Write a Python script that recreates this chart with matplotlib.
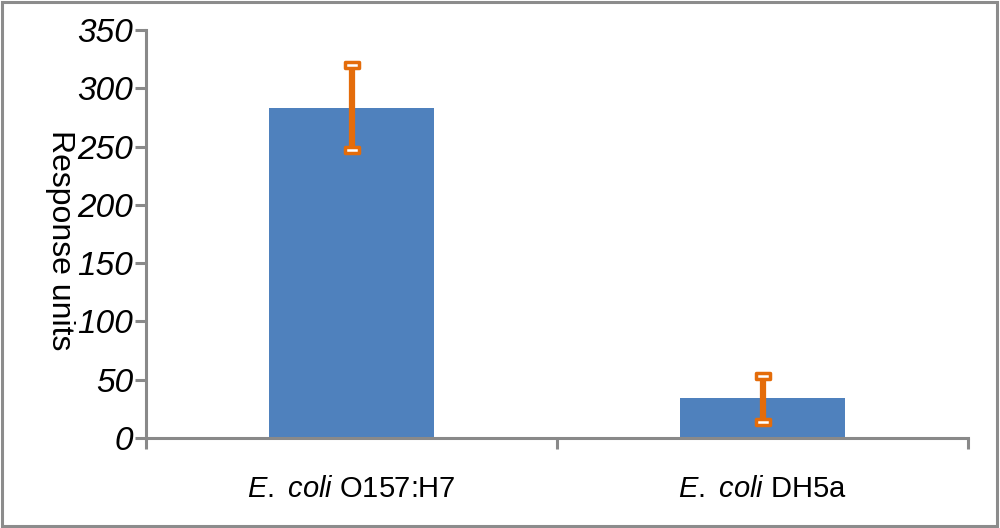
import matplotlib.pyplot as plt
from matplotlib.patches import Rectangle
from matplotlib.path import Path

plt.rcParams['font.family'] = ['Liberation Sans', 'DejaVu Sans']
plt.rcParams['mathtext.fontset'] = 'custom'
plt.rcParams['mathtext.rm'] = 'Liberation Sans'
plt.rcParams['mathtext.it'] = 'Liberation Sans:italic'

strains = [r'$\it{E.}$ $\it{coli}$ O157:H7', r'$\it{E.}$ $\it{coli}$ DH5a']
response = [283, 34]
err_hi = [37, 19]
err_lo = [36, 20]
yticks = [0, 50, 100, 150, 200, 250, 300, 350]

fig = plt.figure(figsize=(10, 5.28), dpi=100)
ax = fig.add_axes([0.146, 0.1705, 0.822, 0.7725])

x = list(range(len(strains)))
ax.bar(x, response, width=0.4, color='#4F81BD', zorder=2)
ax.errorbar(x, response, yerr=[err_lo, err_hi], fmt='none', ecolor='#E46C0A',
            elinewidth=4.5, capsize=0, zorder=3)

# hollow rectangular caps
cap = Path([(-1, -0.45), (1, -0.45), (1, 0.45), (-1, 0.45), (-1, -0.45)],
           [Path.MOVETO, Path.LINETO, Path.LINETO, Path.LINETO, Path.CLOSEPOLY])
tops = [r + h for r, h in zip(response, err_hi)]
bots = [r - l for r, l in zip(response, err_lo)]
ax.plot(x, tops, ls='none', marker=cap, ms=10, mfc='white', mec='#E46C0A', mew=2.5, zorder=4)
ax.plot(x, bots, ls='none', marker=cap, ms=10, mfc='white', mec='#E46C0A', mew=2.5, zorder=4)

ax.set_xlim(-0.5, len(strains) - 0.5)
ax.set_ylim(0, 350)
ax.set_yticks(yticks)
ax.set_yticklabels([str(t) for t in yticks], fontsize=24, style='italic')

ax.set_xticks([-0.5, 0.5, 1.5])
ax.set_xticklabels([])
ax.set_xticks(x, minor=True)
ax.set_xticklabels(strains, minor=True, fontsize=21)
ax.tick_params(axis='x', which='minor', length=0, pad=27)
ax.tick_params(axis='x', which='major', length=8, width=2.2, color='#898989', direction='out')
ax.tick_params(axis='y', length=8, width=2.2, color='#898989', direction='out', pad=1)

for s in ['top', 'right']:
    ax.spines[s].set_visible(False)
for s in ['left', 'bottom']:
    ax.spines[s].set_color('#898989')
    ax.spines[s].set_linewidth(2.2)

ax.text(-0.105, 0.485, 'Response units', fontsize=23, rotation=-90,
        ha='center', va='center', transform=ax.transAxes)

fig.patches.append(Rectangle((0.002, 0.003), 0.995, 0.993, transform=fig.transFigure,
                             fill=False, edgecolor='#8c8c8c', linewidth=2.2))

fig.savefig('out.png', dpi=100)
